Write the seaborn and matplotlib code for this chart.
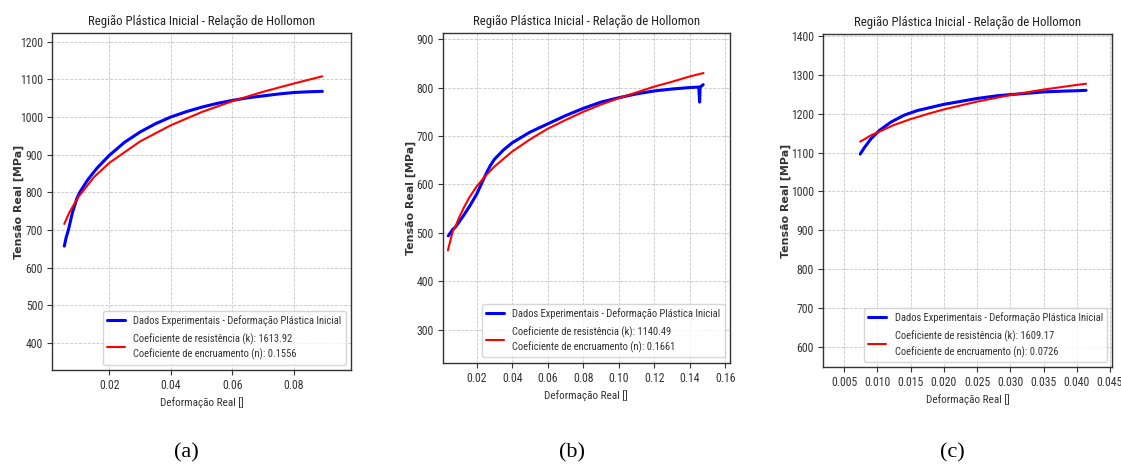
import matplotlib
matplotlib.use("Agg")
import matplotlib.pyplot as plt
import pandas as pd
import seaborn as sns

# ---------------- data ----------------
panel_labels = ["(a)", "(b)", "(c)"]
title_text = "Região Plástica Inicial - Relação de Hollomon"
xlabel_text = "Deformação Real []"
ylabel_text = "Tensão Real [MPa]"
exp_label = "Dados Experimentais - Deformação Plástica Inicial"

k_values = [1613.92, 1140.49, 1609.17]
n_values = [0.1556, 0.1661, 0.0726]

# panel (a)
a_exp_x = [0.0054, 0.006, 0.0067, 0.008, 0.0095, 0.0105, 0.013, 0.016, 0.02, 0.025, 0.03,
           0.035, 0.04, 0.045, 0.05, 0.055, 0.06, 0.065, 0.07, 0.075, 0.08, 0.085, 0.0892]
a_exp_y = [657, 680, 699, 745, 784, 801, 833, 864, 898, 933, 960,
           982, 1000, 1014, 1026, 1036, 1044, 1051, 1056, 1061, 1065, 1067, 1068]
a_fit_x = [0.0054, 0.007, 0.01, 0.015, 0.02, 0.03, 0.04, 0.05, 0.06, 0.07, 0.08, 0.0892]
a_fit_y = [716, 746, 788, 840, 878, 935, 978, 1013, 1042, 1067, 1089, 1108]

# panel (b)
b_exp_x = [0.004, 0.0065, 0.008, 0.01, 0.013, 0.016, 0.02, 0.025, 0.0275, 0.03, 0.035, 0.04,
           0.05, 0.06, 0.07, 0.08, 0.09, 0.10, 0.11, 0.12, 0.13, 0.14, 0.145, 0.1455,
           0.1458, 0.1475]
b_exp_y = [494, 507, 512, 522, 538, 555, 580, 620, 638, 652, 671, 686,
           708, 725, 742, 757, 770, 779, 787, 793, 797, 800, 801, 770,
           801, 806]
b_fit_x = [0.0038, 0.005, 0.0065, 0.008, 0.01, 0.013, 0.016, 0.02, 0.025, 0.03, 0.04, 0.05,
           0.06, 0.07, 0.08, 0.09, 0.10, 0.11, 0.12, 0.13, 0.14, 0.1477]
b_fit_y = [464, 482, 503, 513, 531, 554, 574, 596, 618, 637, 668, 693,
           715, 733, 750, 765, 778, 790, 802, 812, 823, 830]

# panel (c)
c_exp_x = [0.0074, 0.008, 0.009, 0.0103, 0.012, 0.014, 0.016, 0.018, 0.020, 0.022, 0.025,
           0.028, 0.030, 0.033, 0.035, 0.038, 0.040, 0.0414]
c_exp_y = [1096, 1112, 1135, 1157, 1178, 1196, 1208, 1216, 1224, 1230, 1239,
           1246, 1249, 1253, 1256, 1258, 1259, 1260]
c_fit_x = [0.0074, 0.009, 0.0103, 0.0125, 0.015, 0.0175, 0.020, 0.025, 0.030, 0.035, 0.040, 0.0414]
c_fit_y = [1128, 1144, 1154, 1171, 1186, 1199, 1211, 1231, 1248, 1262, 1274, 1277]

xticks = [[0.02, 0.04, 0.06, 0.08],
          [0.02, 0.04, 0.06, 0.08, 0.10, 0.12, 0.14, 0.16],
          [0.005, 0.010, 0.015, 0.020, 0.025, 0.030, 0.035, 0.040, 0.045]]
xtick_labels = [["0.02", "0.04", "0.06", "0.08"],
                ["0.02", "0.04", "0.06", "0.08", "0.10", "0.12", "0.14", "0.16"],
                ["0.005", "0.010", "0.015", "0.020", "0.025", "0.030", "0.035", "0.040", "0.045"]]
yticks = [[400, 500, 600, 700, 800, 900, 1000, 1100, 1200],
          [300, 400, 500, 600, 700, 800, 900],
          [600, 700, 800, 900, 1000, 1100, 1200, 1300, 1400]]
xlims = [(0.0014, 0.0985), (0.00085, 0.1626), (0.00175, 0.04535)]
ylims = [(328, 1223), (232, 912), (548, 1405)]

# ---------------- style ----------------
sns.set_theme(style="ticks")
sans = ["Roboto Condensed", "Liberation Sans Narrow", "Roboto", "DejaVu Sans"]
plt.rcParams["font.family"] = sans
plt.rcParams["axes.edgecolor"] = "#333333"
plt.rcParams["xtick.color"] = "#333333"
plt.rcParams["ytick.color"] = "#333333"

W, H = 1121, 466
fig = plt.figure(figsize=(W / 100, H / 100), dpi=100)

# axes boxes in pixels: left, right, top, bottom
boxes = [(52, 351, 33, 370), (442.7, 730, 33.3, 362.7), (822.7, 1112.3, 34, 367)]
ylabel_offsets = [28, 27, 32]
caption_x = [186, 572, 952]

series = [(a_exp_x, a_exp_y, a_fit_x, a_fit_y),
          (b_exp_x, b_exp_y, b_fit_x, b_fit_y),
          (c_exp_x, c_exp_y, c_fit_x, c_fit_y)]

for i in range(3):
    l, r, t, b = boxes[i]
    ax = fig.add_axes([l / W, (H - b) / H, (r - l) / W, (b - t) / H])
    ex, ey, fx, fy = series[i]
    exp_df = pd.DataFrame({"x": ex, "y": ey})
    fit_df = pd.DataFrame({"x": fx, "y": fy})
    fit_label = (f"Coeficiente de resistência (k): {k_values[i]:.2f}\n"
                 f"Coeficiente de encruamento (n): {n_values[i]:.4f}")
    sns.lineplot(data=exp_df, x="x", y="y", ax=ax, color="blue", linewidth=2.2,
                 estimator=None, sort=False, label=exp_label)
    sns.lineplot(data=fit_df, x="x", y="y", ax=ax, color="red", linewidth=1.5,
                 estimator=None, sort=False, label=fit_label)

    ax.set_xlim(*xlims[i])
    ax.set_ylim(*ylims[i])
    ax.set_xticks(xticks[i])
    ax.set_xticklabels(xtick_labels[i])
    ax.set_yticks(yticks[i])
    ax.tick_params(labelsize=8.5, length=3.5, width=0.8, pad=3, labelcolor="#333333")
    for s in ax.spines.values():
        s.set_visible(True)
        s.set_linewidth(1.0)
        s.set_color("#333333")
    ax.grid(True, linestyle="--", linewidth=0.6, color="#b8b8b8", alpha=0.8)

    ax.set_title(title_text, fontsize=9.2, color="#222222", pad=6)
    ax.set_xlabel(xlabel_text, fontsize=8, color="#333333", labelpad=4)
    ax.set_ylabel(ylabel_text, fontsize=7.9, fontweight="bold", color="#333333",
                  family=["DejaVu Sans"])
    ax.yaxis.set_label_coords(-ylabel_offsets[i] / (r - l), 0.5)

    leg = ax.legend(loc="lower right", fontsize=7.6, handlelength=1.7, handletextpad=0.8,
                    borderaxespad=0.5, frameon=True, labelspacing=0.7)
    leg.get_frame().set_edgecolor("#cccccc")
    for txt in leg.get_texts():
        txt.set_color("#333333")
        txt.set_linespacing(1.45)

    fig.text(caption_x[i] / W, 1 - 453 / H, panel_labels[i], ha="center", va="center",
             fontsize=16, family=["Liberation Serif", "DejaVu Serif"], color="black")

fig.savefig("out.png", dpi=100)
